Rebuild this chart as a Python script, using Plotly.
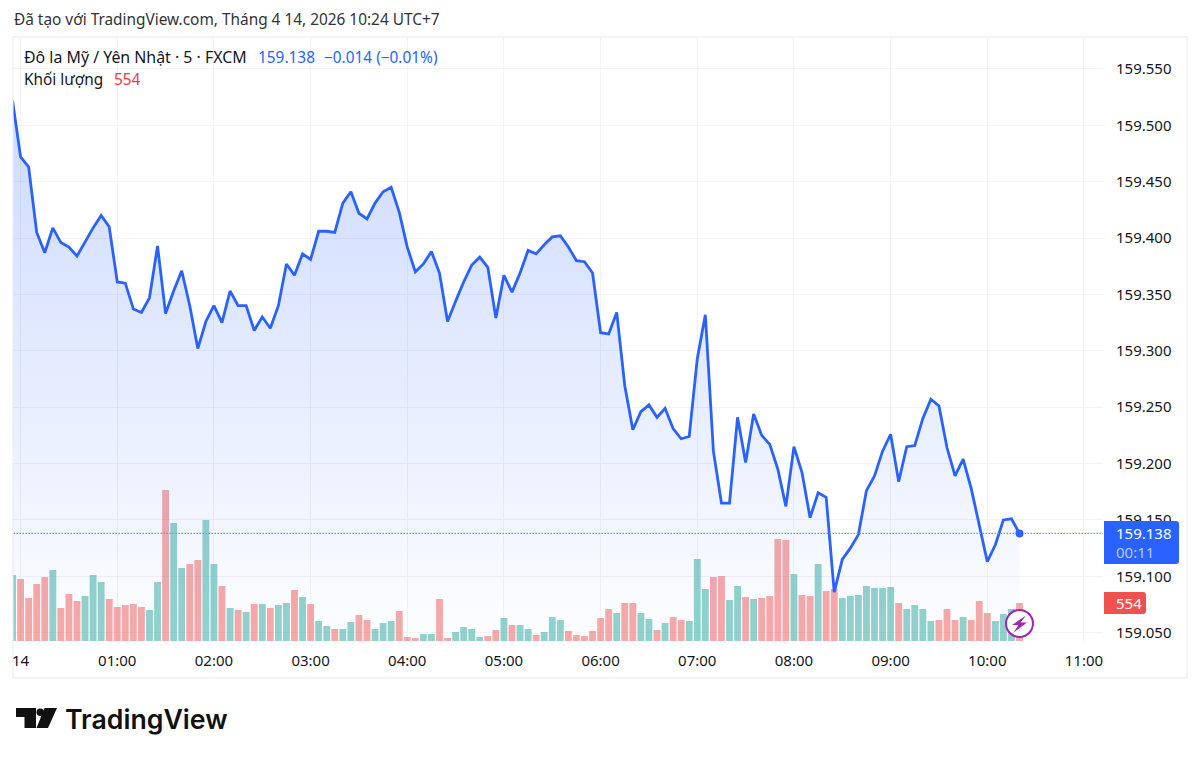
import pandas as pd
import plotly.graph_objects as go

W, H = 1200, 759
START = "2026-04-13 23:55"

price = [
    159.522, 159.472, 159.463, 159.405, 159.387, 159.409, 159.396, 159.392, 159.384, 159.397,
    159.409, 159.420, 159.410, 159.361, 159.360, 159.337, 159.334, 159.347, 159.393, 159.333,
    159.353, 159.371, 159.340, 159.302, 159.326, 159.340, 159.325, 159.353, 159.340, 159.340,
    159.318, 159.330, 159.320, 159.340, 159.377, 159.367, 159.386, 159.381, 159.406, 159.406,
    159.405, 159.431, 159.441, 159.422, 159.417, 159.431, 159.441, 159.445, 159.423, 159.392,
    159.370, 159.377, 159.388, 159.369, 159.326, 159.344, 159.361, 159.376, 159.383, 159.374,
    159.329, 159.367, 159.352, 159.369, 159.389, 159.386, 159.394, 159.401, 159.402, 159.392,
    159.380, 159.379, 159.369, 159.316, 159.315, 159.334, 159.269, 159.230, 159.246, 159.252,
    159.241, 159.249, 159.231, 159.222, 159.224, 159.293, 159.332, 159.211, 159.165, 159.165,
    159.241, 159.201, 159.244, 159.225, 159.217, 159.195, 159.162, 159.215, 159.192, 159.152,
    159.174, 159.170, 159.086, 159.115, 159.125, 159.137, 159.176, 159.189, 159.211, 159.226,
    159.184, 159.215, 159.216, 159.240, 159.257, 159.251, 159.214, 159.189, 159.204, 159.178,
    159.144, 159.113, 159.128, 159.150, 159.151, 159.138,
]
volume = [
    962, 904, 627, 831, 933, 1035, 481, 685, 583, 656,
    962, 860, 612, 496, 525, 539, 496, 452, 860, 2201,
    1720, 1064, 1123, 1181, 1764, 1123, 802, 481, 452, 423,
    539, 539, 481, 525, 554, 744, 641, 539, 292, 219,
    175, 175, 277, 379, 306, 175, 262, 292, 437, 58,
    44, 102, 102, 612, 44, 131, 204, 175, 58, 73,
    160, 335, 233, 233, 175, 87, 131, 350, 306, 146,
    87, 73, 146, 335, 467, 408, 554, 554, 408, 321,
    160, 262, 350, 306, 292, 1196, 758, 933, 948, 598,
    802, 641, 612, 627, 656, 1487, 1473, 977, 671, 656,
    1123, 729, 758, 627, 656, 671, 802, 773, 773, 787,
    554, 467, 525, 467, 292, 306, 467, 306, 350, 306,
    583, 408, 292, 394, 467, 554,
]
direction = list(
    "grrrrgrrrgggrrrrrggrggrrggrgrgrgrggrgrggr"
    "ggrrgggrrrggrrggggrrgrggrgggrrrrrrgrrggrg"
    "rrgggrrggrgrrrrgrrgrrgggggggrggggrrrgrrrgggr"
)
price_ticks = [159.05, 159.10, 159.15, 159.20, 159.25, 159.30, 159.35, 159.40, 159.45, 159.50, 159.55]
time_ticks = ["00:00", "01:00", "02:00", "03:00", "04:00", "05:00", "06:00", "07:00", "08:00", "09:00", "10:00", "11:00"]
time_labels = ["14", "01:00", "02:00", "03:00", "04:00", "05:00", "06:00", "07:00", "08:00", "09:00", "10:00", "11:00"]

times = pd.date_range(START, periods=len(price), freq="5min")
tickvals = [f"2026-04-14 {t}" for t in time_ticks]
bar_colors = ["rgba(239,83,80,0.5)" if d == "r" else "rgba(38,166,154,0.5)" for d in direction]

X_RANGE = ["2026-04-13 23:55:36", "2026-04-14 11:11:49"]
Y_RANGE = [159.04264, 159.5774]
BLUE = "#2962FF"
FONT = "Noto Sans"


def px(x):
    return x / W


def py(y):
    return 1 - y / H


fig = go.Figure()
fig.add_trace(go.Bar(x=times, y=volume, marker=dict(color=bar_colors, line=dict(width=0)),
                     width=255000, yaxis="y", hoverinfo="skip"))
fig.add_trace(go.Scatter(x=times, y=[Y_RANGE[0]] * len(price), mode="lines", line=dict(width=0),
                         yaxis="y2", hoverinfo="skip"))
fig.add_trace(go.Scatter(
    x=times, y=price, mode="lines", yaxis="y2", fill="tonexty",
    line=dict(color=BLUE, width=2.8, shape="linear"),
    fillgradient=dict(type="vertical", start=Y_RANGE[0], stop=Y_RANGE[1], colorscale=[
        [0, "rgba(41,98,255,0.01)"], [1, "rgba(41,98,255,0.26)"]]),
))
fig.add_trace(go.Scatter(x=X_RANGE, y=[price[-1]] * 2, mode="lines", yaxis="y2",
                         line=dict(color="#6E93FF", width=1.3, dash="1.5px,1.5px")))
fig.add_trace(go.Scatter(x=[times[-1]], y=[price[-1]], mode="markers", yaxis="y2",
                         marker=dict(color=BLUE, size=8)))


def rrect(x0, y0, x1, y1, r, color):
    path = (f"M{px(x0 + r)},{py(y0)} L{px(x1 - r)},{py(y0)} Q{px(x1)},{py(y0)} {px(x1)},{py(y0 + r)} "
            f"L{px(x1)},{py(y1 - r)} Q{px(x1)},{py(y1)} {px(x1 - r)},{py(y1)} L{px(x0)},{py(y1)} "
            f"L{px(x0)},{py(y0)} Z")
    return dict(type="path", xref="paper", yref="paper", path=path, fillcolor=color, line=dict(width=0))


def poly(points, color):
    path = "M" + " L".join(f"{px(x)},{py(y)}" for x, y in points) + " Z"
    return dict(type="path", xref="paper", yref="paper", path=path, fillcolor=color, line=dict(width=0))


shapes = [
    dict(type="rect", xref="paper", yref="paper", x0=px(13), x1=px(1187), y0=py(678), y1=py(37),
         line=dict(color="#F0F1F4", width=1.5), layer="below"),
    rrect(1104, 521, 1179, 564, 3, BLUE),
    rrect(1104, 592, 1146, 614, 3, "#F0504E"),
    dict(type="circle", xref="paper", yref="paper", x0=px(1006), x1=px(1033), y0=py(637), y1=py(610),
         fillcolor="white", line=dict(color="#9C27B0", width=2)),
    poly([(1026, 615.5), (1012, 625), (1018.5, 625), (1013.5, 632.5), (1027, 622.5), (1020.5, 622.5)], "#9C27B0"),
    # logo
    poly([(16, 708), (36, 708), (36, 728), (24.5, 728), (24.5, 717), (16, 717)], "#111"),
    dict(type="circle", xref="paper", yref="paper", x0=px(36.5), x1=px(44), y0=py(716), y1=py(708.5),
         fillcolor="#111", line=dict(width=0)),
    poly([(44.5, 708), (57, 708), (48, 728), (36.5, 728)], "#111"),
]


def text(x, y, s, color="#131722", size=15.4, **kw):
    return dict(x=px(x), y=py(y), xref="paper", yref="paper", text=s, showarrow=False, xanchor="left",
                yanchor="middle", align="left", font=dict(family=kw.pop("family", FONT), size=size, color=color, **kw))


annotations = [
    text(12, 20, "Đã tạo với TradingView.com, Tháng 4 14, 2026 10:24 UTC+7", "#333333"),
    text(22, 57, "Đô la Mỹ / Yên Nhật · 5 · FXCM", "#131722", 15.9),
    text(256, 57, "159.138", BLUE),
    text(322, 57, "−0.014 (−0.01%)", BLUE),
    text(22, 80, "Khối lượng", "#131722"),
    text(112, 80, "554", "#F23645"),
    text(1114, 533, "159.138", "#FFFFFF", 15),
    text(1114, 552, "00:11", "#B6C8FB", 15),
    text(1114, 603, "554", "#FFFFFF", 15),
    text(63, 719, "TradingView", "#111111", 26.7, family="Inter", weight=600),
]

fig.update_layout(
    width=W, height=H, margin=dict(l=0, r=0, t=0, b=0), paper_bgcolor="white", plot_bgcolor="white",
    showlegend=False, barmode="overlay", shapes=shapes, annotations=annotations,
    font=dict(family=FONT, size=15, color="#131722"),
    xaxis=dict(domain=[px(13.5), px(1103)], range=X_RANGE, type="date", tickmode="array",
               tickvals=tickvals, ticktext=time_labels, showgrid=True, gridcolor="#F2F3F6", gridwidth=1,
               zeroline=False, showline=False, ticks="outside", ticklen=6, tickcolor="rgba(0,0,0,0)",
               anchor="y"),
    yaxis=dict(domain=[py(641), py(38)], range=[0, 8791], showgrid=False, zeroline=False,
               showticklabels=False, ticks=""),
    yaxis2=dict(domain=[py(641), py(38)], range=Y_RANGE, overlaying="y", side="right", anchor="x",
                tickmode="array", tickvals=price_ticks, ticktext=[f"{v:.3f}" for v in price_ticks],
                showgrid=True, gridcolor="#F2F3F6", gridwidth=1, zeroline=False, showline=False,
                ticks="outside", ticklen=9, tickcolor="rgba(0,0,0,0)"),
)

fig.write_html("out.html", post_script="document.body.style.margin='0';",
               config=dict(displayModeBar=False))
